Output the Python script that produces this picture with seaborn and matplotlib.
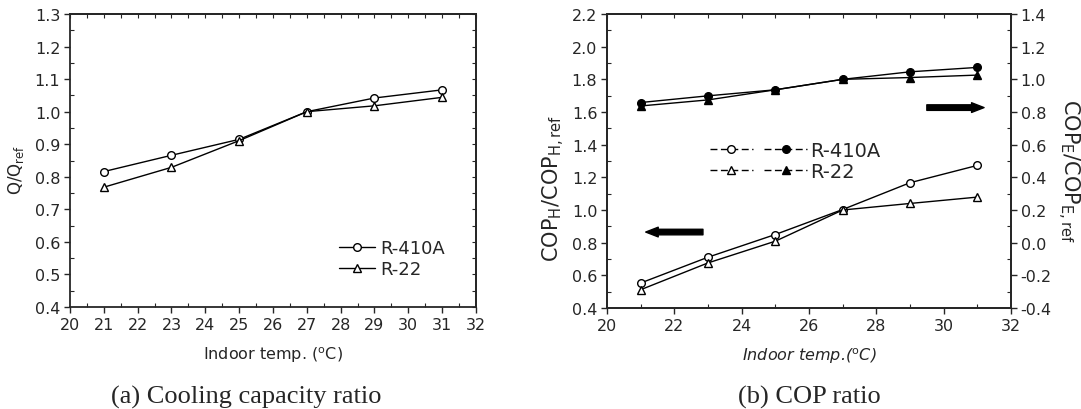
import numpy as np
import matplotlib
matplotlib.use("Agg")
import matplotlib.pyplot as plt
import seaborn as sns
from matplotlib.lines import Line2D
from matplotlib.legend_handler import HandlerTuple
from matplotlib.ticker import MultipleLocator, FormatStrFormatter

# ---------------- data ----------------
temps = [21, 23, 25, 27, 29, 31]

# (a) cooling capacity ratio
q_r410a = [0.816, 0.866, 0.915, 1.000, 1.042, 1.067]
q_r22 = [0.768, 0.829, 0.911, 1.000, 1.018, 1.044]

# (b) COP ratio
coph_r410a = [0.553, 0.711, 0.850, 1.003, 1.167, 1.273]
coph_r22 = [0.512, 0.676, 0.809, 1.000, 1.040, 1.079]
cope_r410a = [0.858, 0.899, 0.936, 1.000, 1.046, 1.073]
cope_r22 = [0.837, 0.874, 0.936, 1.000, 1.011, 1.026]

labels = ["R-410A", "R-22"]
caption_a = "(a) Cooling capacity ratio"
caption_b = "(b) COP ratio"

# ---------------- style ----------------
sns.set_style("ticks")
plt.rcParams["font.family"] = ["DejaVu Sans"]
plt.rcParams["mathtext.fontset"] = "dejavusans"
plt.rcParams["axes.linewidth"] = 1.3

W, H = 1081, 410
fig = plt.figure(figsize=(W / 100, H / 100), dpi=100)
ax1 = fig.add_axes([70 / W, (H - 308) / H, 406 / W, 293 / H])
ax2 = fig.add_axes([607 / W, (H - 309) / H, 404 / W, 294 / H])
ax3 = ax2.twinx()

lk = dict(color="black", linewidth=1.0, markersize=5.5, markeredgewidth=1.0)

# ---------------- panel (a) ----------------
sns.lineplot(x=temps, y=q_r410a, ax=ax1, marker="o", markerfacecolor="white",
             markeredgecolor="black", **lk)
sns.lineplot(x=temps, y=q_r22, ax=ax1, marker="^", markerfacecolor="white",
             markeredgecolor="black", **lk)
ax1.set_xlim(20, 32)
ax1.set_ylim(0.4, 1.3)
ax1.xaxis.set_major_locator(MultipleLocator(1))
ax1.xaxis.set_minor_locator(MultipleLocator(0.5))
ax1.yaxis.set_major_locator(MultipleLocator(0.1))
ax1.yaxis.set_minor_locator(MultipleLocator(0.05))
ax1.yaxis.set_major_formatter(FormatStrFormatter("%.1f"))
ax1.tick_params(which="major", direction="out", length=4, width=1.0, labelsize=11.5, pad=3)
ax1.tick_params(which="minor", direction="in", length=3, width=0.8)
for side in ["top", "right"]:
    ax1.spines[side].set_visible(True)
sx = ax1.secondary_xaxis("top")
sx.xaxis.set_major_locator(MultipleLocator(0.5))
sx.tick_params(direction="in", length=3, labeltop=False)
sy = ax1.secondary_yaxis("right")
sy.yaxis.set_major_locator(MultipleLocator(0.05))
sy.tick_params(direction="in", length=3, labelright=False)
ax1.set_xlabel("Indoor temp. ($^{\\mathrm{o}}$C)", fontsize=11.5, labelpad=9)
ax1.set_ylabel("Q/Q$_{\\mathrm{ref}}$", fontsize=12)
ax1.yaxis.set_label_coords(-44 / 406, 0.47)

h1 = [Line2D([], [], color="black", lw=1.0, marker=m, markerfacecolor="white",
             markeredgecolor="black", markersize=5.5) for m in ["o", "^"]]
ax1.legend(h1, labels, loc="upper left", bbox_to_anchor=(262 / 406, 1 - 218 / 293),
           frameon=False, fontsize=13, handlelength=2.0, handletextpad=0.3,
           labelspacing=0.15, borderaxespad=0)

# ---------------- panel (b) ----------------
sns.lineplot(x=temps, y=coph_r410a, ax=ax2, marker="o", markerfacecolor="white",
             markeredgecolor="black", **lk)
sns.lineplot(x=temps, y=coph_r22, ax=ax2, marker="^", markerfacecolor="white",
             markeredgecolor="black", **lk)
sns.lineplot(x=temps, y=cope_r410a, ax=ax3, marker="o", markerfacecolor="black",
             markeredgecolor="black", **lk)
sns.lineplot(x=temps, y=cope_r22, ax=ax3, marker="^", markerfacecolor="black",
             markeredgecolor="black", **lk)
ax2.set_xlim(20, 32)
ax2.set_ylim(0.4, 2.2)
ax3.set_ylim(-0.4, 1.4)
ax2.xaxis.set_major_locator(MultipleLocator(2))
ax2.xaxis.set_minor_locator(MultipleLocator(1))
ax2.yaxis.set_major_locator(MultipleLocator(0.2))
ax2.yaxis.set_minor_locator(MultipleLocator(0.1))
ax3.yaxis.set_major_locator(MultipleLocator(0.2))
ax3.yaxis.set_minor_locator(MultipleLocator(0.1))
ax2.yaxis.set_major_formatter(FormatStrFormatter("%.1f"))
ax3.yaxis.set_major_formatter(FormatStrFormatter("%.1f"))
for a in (ax2, ax3):
    a.tick_params(which="major", direction="out", length=4, width=1.0, labelsize=11.5, pad=3)
    a.tick_params(which="minor", direction="in", length=3, width=0.8)
ax2.spines["top"].set_visible(True)
sx2 = ax2.secondary_xaxis("top")
sx2.xaxis.set_major_locator(MultipleLocator(1))
sx2.tick_params(direction="in", length=3, labeltop=False)

ax2.set_xlabel("Indoor temp.($^{\\mathrm{o}}$C)", fontsize=11.5, style="italic", labelpad=9)
ax2.set_ylabel("COP$_{\\mathrm{H}}$/COP$_{\\mathrm{H,ref}}$", fontsize=15)
ax2.yaxis.set_label_coords(-40 / 404, 0.41)
ax3.set_ylabel("COP$_{\\mathrm{E}}$/COP$_{\\mathrm{E,ref}}$", fontsize=15, rotation=270)
ax3.yaxis.set_label_coords(1 + 70 / 404, 0.47)

# arrows
astyle = "simple,head_length=0.9,head_width=0.7,tail_width=0.4"
ax2.annotate("", xy=(21.15, 0.865), xytext=(22.85, 0.865),
             arrowprops=dict(arrowstyle=astyle, color="black", shrinkA=0, shrinkB=0),
             annotation_clip=False)
ax3.annotate("", xy=(31.2, 0.827), xytext=(29.5, 0.827),
             arrowprops=dict(arrowstyle=astyle, color="black", shrinkA=0, shrinkB=0),
             annotation_clip=False)

dash = (0, (5, 2.5))
h_open = [Line2D([], [], color="black", lw=1.0, ls=dash, marker=m, markerfacecolor="white",
                 markeredgecolor="black", markersize=5.5) for m in ["o", "^"]]
h_fill = [Line2D([], [], color="black", lw=1.0, ls=dash, marker=m, markerfacecolor="black",
                 markeredgecolor="black", markersize=5.5) for m in ["o", "^"]]
ax3.legend([(h_open[0], h_fill[0]), (h_open[1], h_fill[1])], labels,
           handler_map={tuple: HandlerTuple(ndivide=None, pad=0.6)},
           loc="upper left", bbox_to_anchor=(95 / 404, 1 - 119 / 294),
           frameon=False, fontsize=14, handlelength=5.0, handletextpad=0.15,
           labelspacing=0.1, borderaxespad=0)

# captions
fig.text(246 / W, 1 - 397 / H, caption_a, family="Liberation Serif", fontsize=19,
         ha="center", va="center")
fig.text(809 / W, 1 - 397 / H, caption_b, family="Liberation Serif", fontsize=19,
         ha="center", va="center")

fig.savefig("out.png", dpi=100, facecolor="white")
